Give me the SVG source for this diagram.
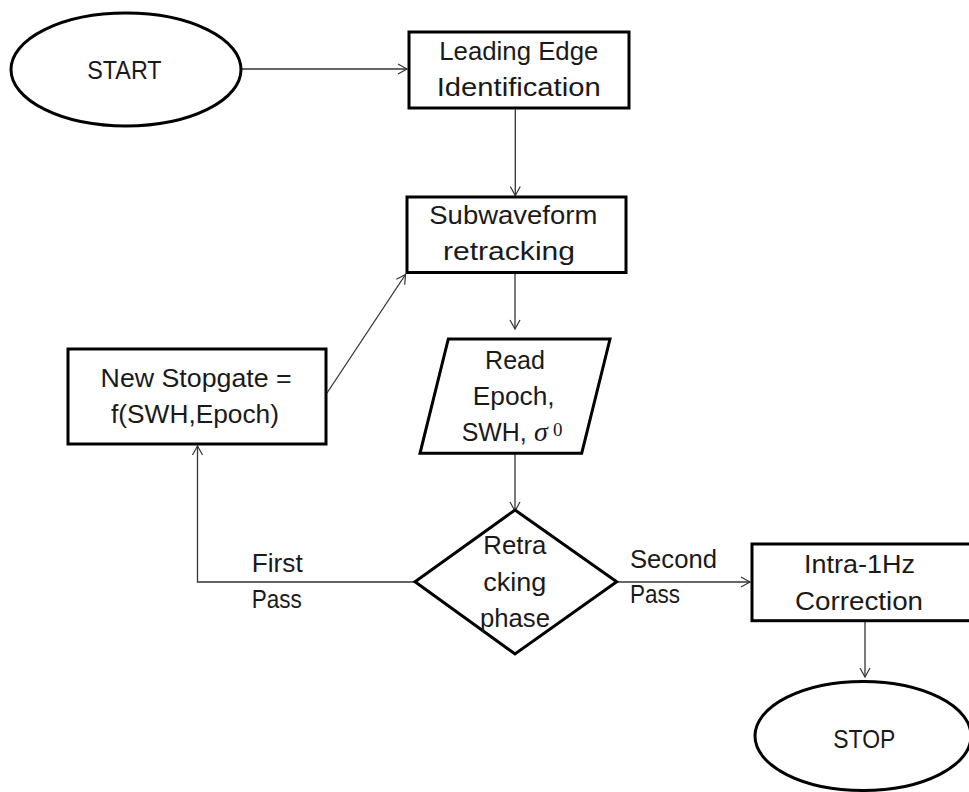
<svg xmlns="http://www.w3.org/2000/svg" width="969" height="792" viewBox="0 0 969 792">
<defs>
<marker id="arr" markerUnits="userSpaceOnUse" markerWidth="14" markerHeight="14" viewBox="-12 -7 14 14" refX="0" refY="0" orient="auto">
<path d="M-9,-5 L0,0 L-9,5" fill="none" stroke="#333" stroke-width="1.2"/>
</marker>
<style>
.shape{fill:#fff;stroke:#000;stroke-width:3;stroke-linejoin:miter}
.conn{fill:none;stroke:#333;stroke-width:1.3;marker-end:url(#arr)}
.t{font-family:"Liberation Sans",Arial,sans-serif;font-size:26px;fill:#1a1a1a}
.lbl{font-family:"Liberation Sans",Arial,sans-serif;font-size:26px;fill:#1a1a1a}
</style>
</defs>
<rect width="969" height="792" fill="#fff"/>

<g id="connectors">
<path class="conn" d="M241,69 H407"/>
<path class="conn" d="M515.3,109.5 V195.5"/>
<path class="conn" d="M515,273.5 V329"/>
<path class="conn" d="M515,453.5 V511"/>
<path class="conn" d="M415,582 H197.5 V446"/>
<path class="conn" d="M327,393 L405.5,274.5"/>
<path class="conn" d="M617,582 H750"/>
<path class="conn" d="M865,621.5 V677"/>
<text class="lbl" x="251.7" y="571.7" textLength="51" lengthAdjust="spacingAndGlyphs">First</text>
<text class="lbl" x="251.7" y="607.7" textLength="50" lengthAdjust="spacingAndGlyphs">Pass</text>
<text class="lbl" x="630" y="568" textLength="87" lengthAdjust="spacingAndGlyphs">Second</text>
<text class="lbl" x="630" y="603" textLength="50" lengthAdjust="spacingAndGlyphs">Pass</text>
</g>

<g id="start">
<ellipse class="shape" cx="126" cy="69.5" rx="115" ry="56.5"/>
<text class="t" x="87.3" y="79" font-size="27" textLength="74.3" lengthAdjust="spacingAndGlyphs">START</text>
</g>

<g id="leading-edge">
<rect class="shape" x="409" y="32" width="220" height="76"/>
<text class="t" x="439.3" y="60" textLength="159" lengthAdjust="spacingAndGlyphs">Leading Edge</text>
<text class="t" x="436.7" y="96" textLength="164" lengthAdjust="spacingAndGlyphs">Identification</text>
</g>

<g id="subwaveform">
<rect class="shape" x="407" y="197" width="219" height="75.5"/>
<text class="t" x="429.3" y="224" textLength="168" lengthAdjust="spacingAndGlyphs">Subwaveform</text>
<text class="t" x="443" y="260" textLength="132" lengthAdjust="spacingAndGlyphs">retracking</text>
</g>

<g id="new-stopgate">
<rect class="shape" x="68" y="349" width="258" height="95"/>
<text class="t" x="100.6" y="387" textLength="191" lengthAdjust="spacingAndGlyphs">New Stopgate =</text>
<text class="t" x="111" y="423" textLength="168" lengthAdjust="spacingAndGlyphs">f(SWH,Epoch)</text>
</g>

<g id="read">
<polygon class="shape" points="448.3,339 610,339 581.7,453.3 420,453.3"/>
<text class="t" x="485" y="369" textLength="60" lengthAdjust="spacingAndGlyphs">Read</text>
<text class="t" x="472.7" y="405" textLength="82" lengthAdjust="spacingAndGlyphs">Epoch,</text>
<text class="t" x="461.7" y="441" textLength="65" lengthAdjust="spacingAndGlyphs">SWH,</text>
<text x="534" y="441" font-family="'Liberation Serif','DejaVu Serif',serif" font-style="italic" font-size="28" fill="#1a1a1a">σ</text>
<text x="553" y="436" font-family="'Liberation Serif','DejaVu Serif',serif" font-size="19" fill="#1a1a1a">0</text>
</g>

<g id="retracking-phase">
<polygon class="shape" points="515,510 616.7,581.7 515,654 415,581.7"/>
<text class="t" x="483.3" y="554" textLength="63" lengthAdjust="spacingAndGlyphs">Retra</text>
<text class="t" x="483.3" y="591" textLength="63" lengthAdjust="spacingAndGlyphs">cking</text>
<text class="t" x="480" y="627" textLength="70" lengthAdjust="spacingAndGlyphs">phase</text>
</g>

<g id="intra-1hz">
<rect class="shape" x="752" y="544" width="222" height="76.7"/>
<text class="t" x="804" y="573" textLength="111" lengthAdjust="spacingAndGlyphs">Intra-1Hz</text>
<text class="t" x="795" y="610" textLength="128" lengthAdjust="spacingAndGlyphs">Correction</text>
</g>

<g id="stop">
<ellipse class="shape" cx="863" cy="736" rx="108" ry="54.5"/>
<text class="t" x="833.3" y="748" font-size="27" textLength="62" lengthAdjust="spacingAndGlyphs">STOP</text>
</g>
</svg>
